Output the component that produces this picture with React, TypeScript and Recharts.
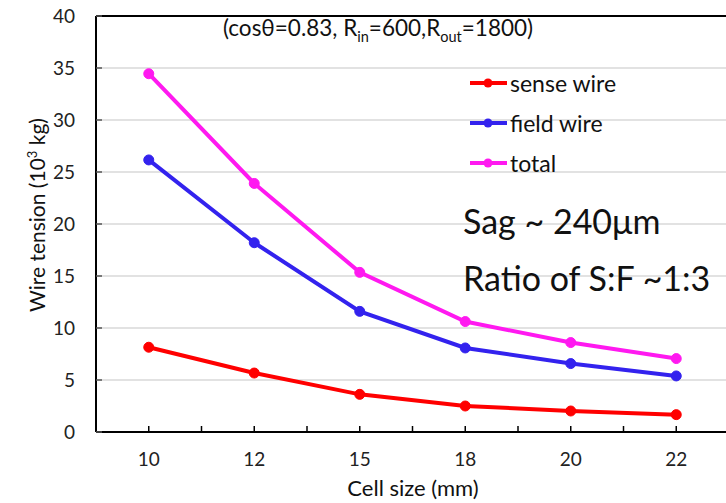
import React from "react";
import {
  LineChart,
  Line,
  XAxis,
  YAxis,
  CartesianGrid,
  ReferenceLine,
} from "recharts";

const cellSizes = ["10", "12", "15", "18", "20", "22"];
const senseWire = [8.15, 5.67, 3.62, 2.5, 2.02, 1.67];
const fieldWire = [26.16, 18.2, 11.6, 8.08, 6.58, 5.39];
const totalTension = [34.45, 23.9, 15.35, 10.62, 8.6, 7.06];
const yTicks = [0, 5, 10, 15, 20, 25, 30, 35, 40];

const data = cellSizes.map((size, i) => ({
  size,
  sense: senseWire[i],
  field: fieldWire[i],
  total: totalTension[i],
}));

const series = [
  { key: "sense", name: "sense wire", color: "#ff0000" },
  { key: "field", name: "field wire", color: "#3322ee" },
  { key: "total", name: "total", color: "#ff19f0" },
];

const FONT = "Lato, 'Noto Sans', sans-serif";

const XTick = (props: any) => {
  const { x, y, payload, index, visibleTicksCount, width } = props;
  const half =
    payload?.offset ?? (width ?? 633) / (visibleTicksCount || 6) / 2;
  const marks = [x - half, x];
  if (index === visibleTicksCount - 1) marks.push(x + half);
  return (
    <g>
      {marks.map((mx, i) => (
        <line key={i} x1={mx} x2={mx} y1={y} y2={y - 6} stroke="#000" strokeWidth={1.5} />
      ))}
      <text x={x} y={y + 34} textAnchor="middle" fontSize={19} fill="#222" fontFamily={FONT}>
        {payload.value}
      </text>
    </g>
  );
};

const YTick = (props: any) => {
  const { x, y, payload } = props;
  return (
    <g>
      <line x1={x} x2={x + 6} y1={y} y2={y} stroke="#555" strokeWidth={1.5} />
      <text x={x - 21} y={y + 7} textAnchor="end" fontSize={19} fill="#222" fontFamily={FONT}>
        {payload.value}
      </text>
    </g>
  );
};

const dot = (color: string) => ({ r: 5, fill: color, stroke: color, strokeWidth: 1 });

const App: React.FC = () => {
  return (
    <div
      style={{
        position: "absolute",
        left: 0,
        top: 0,
        width: 726,
        height: 503,
        overflow: "hidden",
        background: "#fff",
        fontFamily: FONT,
        color: "#111",
      }}
    >
      <LineChart
        width={740}
        height={503}
        data={data}
        margin={{ top: 16, right: 11, left: 0, bottom: 0 }}
      >
        <CartesianGrid horizontal={true} vertical={false} stroke="#d9d9d9" strokeWidth={1.5} />
        <XAxis
          dataKey="size"
          scale="band"
          height={71}
          axisLine={{ stroke: "#000", strokeWidth: 2 }}
          tickLine={false}
          tickSize={0}
          tickMargin={0}
          tick={<XTick />}
          interval={0}
        />
        <YAxis
          domain={[0, 40]}
          ticks={yTicks}
          width={96}
          axisLine={{ stroke: "#000", strokeWidth: 2 }}
          tickLine={false}
          tickSize={0}
          tickMargin={0}
          tick={<YTick />}
          interval={0}
        />
        <ReferenceLine y={40} stroke="#000" strokeWidth={2} />
        {series.map((s) => (
          <Line
            key={s.key}
            dataKey={s.key}
            name={s.name}
            stroke={s.color}
            strokeWidth={4}
            dot={dot(s.color)}
            activeDot={false}
            isAnimationActive={false}
          />
        ))}
      </LineChart>

      {/* legend */}
      <div style={{ position: "absolute", left: 470, top: 63 }}>
        {series.map((s) => (
          <div key={s.key} style={{ display: "flex", alignItems: "center", height: 40 }}>
            <svg width={38} height={12}>
              <line x1={0} x2={37} y1={6} y2={6} stroke={s.color} strokeWidth={4} />
              <circle cx={18} cy={6} r={4.5} fill={s.color} />
            </svg>
            <span style={{ fontSize: 23, marginLeft: 2, lineHeight: "40px" }}>{s.name}</span>
          </div>
        ))}
      </div>

      <div
        style={{
          position: "absolute",
          left: 223,
          top: 15,
          fontSize: 22.5,
          whiteSpace: "nowrap",
          lineHeight: "26px",
        }}
      >
        (cosθ=0.83, R<sub style={{ fontSize: 14.5, lineHeight: 0 }}>in</sub>=600,R
        <sub style={{ fontSize: 14.5, lineHeight: 0 }}>out</sub>=1800)
      </div>

      <div
        style={{
          position: "absolute",
          left: 463,
          top: 201,
          fontSize: 34,
          whiteSpace: "nowrap",
          lineHeight: "40px",
        }}
      >
        Sag ~ 240μm
      </div>
      <div
        style={{
          position: "absolute",
          left: 463,
          top: 258,
          fontSize: 34,
          whiteSpace: "nowrap",
          lineHeight: "40px",
        }}
      >
        Ratio of S:F ~1:3
      </div>

      <div
        style={{
          position: "absolute",
          left: 37,
          top: 215,
          transform: "translate(-50%, -50%) rotate(-90deg)",
          fontSize: 21,
          whiteSpace: "nowrap",
          lineHeight: "26px",
        }}
      >
        Wire tension (10<sup style={{ fontSize: 13, lineHeight: 0 }}>3</sup> kg)
      </div>

      <div
        style={{
          position: "absolute",
          left: 413,
          top: 488,
          transform: "translate(-50%, -50%)",
          fontSize: 22,
          whiteSpace: "nowrap",
          lineHeight: "24px",
        }}
      >
        Cell size (mm)
      </div>
    </div>
  );
};

export default App;
